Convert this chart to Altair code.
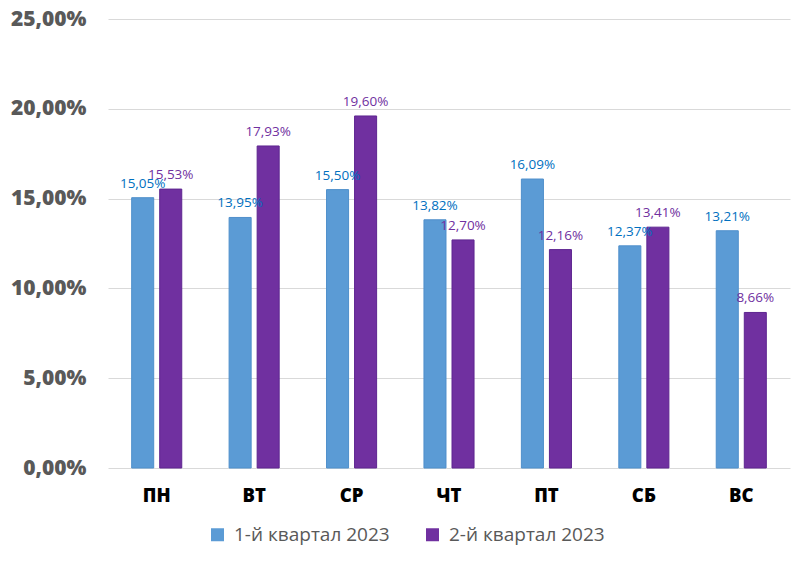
import altair as alt
import pandas as pd

days = ["ПН", "ВТ", "СР", "ЧТ", "ПТ", "СБ", "ВС"]
series = ["1-й квартал 2023", "2-й квартал 2023"]
q1 = [15.05, 13.95, 15.50, 13.82, 16.09, 12.37, 13.21]
q2 = [15.53, 17.93, 19.60, 12.70, 12.16, 13.41, 8.66]

rows = []
for d, a, b in zip(days, q1, q2):
    rows.append({"day": d, "series": series[0], "value": a / 100})
    rows.append({"day": d, "series": series[1], "value": b / 100})
df = pd.DataFrame(rows)
df["label"] = df["value"].map(lambda v: f"{v*100:.2f}".replace(".", ",") + "%")

bar_colors = ["#5B9BD5", "#7030A0"]
text_colors = ["#0070C0", "#7030A0"]
FONT = "Open Sans"

x = alt.X("day:N", sort=days, title=None,
          scale=alt.Scale(paddingInner=0.486, paddingOuter=0.243),
          axis=alt.Axis(labelAngle=0, labelFont=FONT, labelFontSize=18.5, labelFontWeight=800,
                        labelColor="#000000", labelPadding=18, ticks=False, domain=False, grid=False))
xo = alt.XOffset("series:N", sort=series, scale=alt.Scale(paddingInner=0.214, paddingOuter=0))
y = alt.Y("value:Q", title=None,
          scale=alt.Scale(domain=[0, 0.25], nice=False),
          axis=alt.Axis(values=[0, 0.05, 0.10, 0.15, 0.20, 0.25], format=".2%",
                        labelExpr="replace(format(datum.value*100, '.2f'), '.', ',') + '%'",
                        labelFont=FONT, labelFontSize=21, labelFontWeight=800, labelColor="#595959",
                        labelPadding=22, ticks=False, domain=False, grid=True,
                        gridColor="#D9D9D9", gridWidth=1))

bars = alt.Chart(df).mark_bar(strokeWidth=1).encode(
    x=x, xOffset=xo, y=y,
    color=alt.Color("series:N", sort=series,
                    scale=alt.Scale(domain=series, range=bar_colors),
                    legend=alt.Legend(title=None, orient="none", direction="horizontal",
                                      legendX=100, legendY=506,
                                      symbolType="square", symbolSize=169, symbolStrokeWidth=0,
                                      labelFont=FONT, labelFontSize=19, labelColor="#595959",
                                      labelOffset=7, columnPadding=33, labelLimit=300)),
    stroke=alt.Stroke("series:N", sort=series,
                      scale=alt.Scale(domain=series, range=["#4F8FCB", "#5E2590"]), legend=None),
)

labels = alt.Chart(df).mark_text(font=FONT, fontSize=13.5, baseline="alphabetic", dy=-10).encode(
    x=x, xOffset=xo, y=y, text="label:N",
    color=alt.Color("series:N", sort=series, scale=alt.Scale(domain=series, range=text_colors), legend=None),
)

chart = alt.layer(bars, labels).resolve_scale(color="independent").properties(
    width=682, height=449,
    autosize=alt.AutoSizeParams(type="none"),
    padding={"left": 100, "top": 11, "right": 2, "bottom": 86},
).configure_view(stroke=None)

chart.save("out.html", embed_options={"renderer": "svg", "actions": False})
